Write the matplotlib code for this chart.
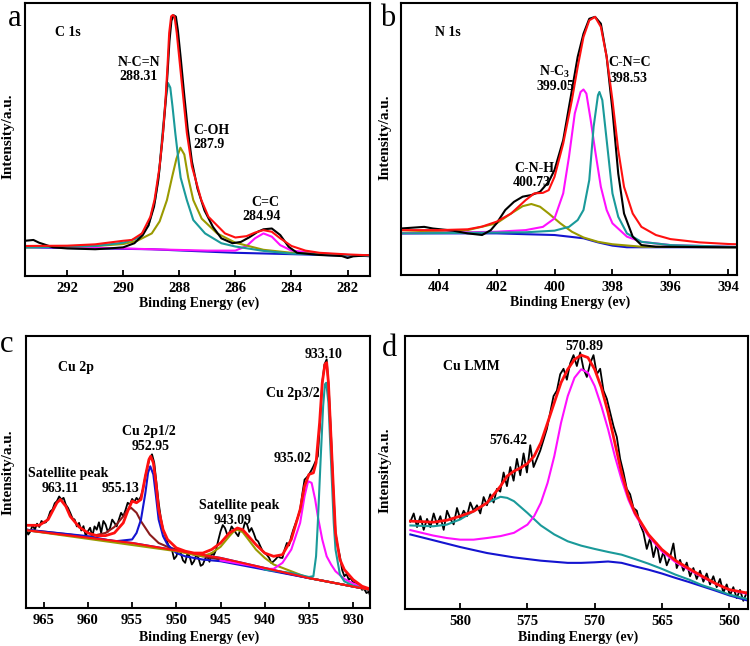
import numpy as np
import matplotlib
matplotlib.use("Agg")
import matplotlib.pyplot as plt

plt.rcParams["font.family"] = ["Liberation Serif", "DejaVu Serif"]
plt.rcParams["font.weight"] = "bold"
plt.rcParams["mathtext.fontset"] = "custom"
plt.rcParams["mathtext.rm"] = "Liberation Serif:bold"
plt.rcParams["mathtext.it"] = "Liberation Serif:bold"
plt.rcParams["mathtext.bf"] = "Liberation Serif:bold"

RED = "#ff1010"
TEAL = "#1a9a9a"
OLIVE = "#9a9a00"
MAGENTA = "#ff10ff"
BLUE = "#1414d0"
BROWN = "#8b1c1c"

# ---------------- (a) C 1s ----------------
a_fit_x = [293.5, 292, 291, 290, 289.69, 289.33, 289.03, 288.88, 288.70, 288.58, 288.49, 288.42,
           288.36, 288.29, 288.23, 288.17, 288.09, 287.97, 287.85, 287.73, 287.55, 287.22, 286.96,
           286.37, 286.0, 285.6, 285.3, 285.0, 284.7, 284.4, 284.0, 283.5, 283, 282, 281.25]
a_fit_y = [11.0, 11.1, 11.6, 12.9, 13.2, 15.6, 21.7, 28.0, 40.2, 52.4, 64.6, 76.8,
           89.0, 95.1, 95.6, 95.1, 89.0, 76.8, 64.6, 52.4, 40.2, 28.0, 21.7,
           15.6, 14.1, 14.6, 15.9, 16.8, 16.2, 13.8, 11.0, 9.3, 8.5, 7.9, 7.6]
a_raw_x = [293.5, 293.2, 293.0, 292.5, 292, 291, 290.5, 290, 289.6, 289.3, 289.1, 288.9, 288.75,
           288.6, 288.5, 288.42, 288.35, 288.28, 288.2, 288.12, 288.05, 287.95, 287.82, 287.7,
           287.55, 287.35, 287.1, 286.8, 286.5, 286.1, 285.8, 285.5, 285.2, 285.0, 284.7, 284.4,
           284.1, 283.8, 283, 282.2, 282, 281.8, 281.25]
a_raw_y = [12.9, 13.2, 12.2, 10.5, 10.1, 9.8, 10.1, 10.5, 12.0, 15.0, 18.5, 25.4, 35.0,
           50.0, 62.0, 74.0, 86.0, 93.5, 95.5, 95.0, 90.0, 80.0, 66.0, 54.0,
           42.0, 32.0, 24.0, 18.0, 13.8, 12.0, 12.5, 14.2, 16.2, 17.1, 17.4, 15.0,
           10.7, 8.5, 7.7, 7.3, 6.6, 7.2, 7.6]
a_ncn_x = [293.5, 291, 290, 289.5, 289.33, 289.1, 288.86, 288.72, 288.6, 288.5, 288.4, 288.32,
           288.24, 288.14, 288.0, 287.95, 287.73, 287.5, 287.08, 286.5, 286, 285, 284, 282, 281.25]
a_ncn_y = [10.5, 11.0, 12.2, 13.8, 15.6, 18.5, 28.0, 38.0, 52.2, 63.0, 70.7, 69.0,
           62.0, 52.2, 40.0, 36.0, 27.8, 20.5, 15.6, 12.0, 10.8, 9.2, 8.2, 7.6, 7.3]
a_coh_x = [293.5, 291, 290, 289.5, 288.98, 288.7, 288.44, 288.25, 288.1, 287.96, 287.82, 287.68,
           287.5, 287.2, 286.65, 286, 285, 284, 282, 281.25]
a_coh_y = [10.5, 11.0, 11.7, 12.9, 15.6, 20.0, 27.8, 36.5, 43.0, 47.0, 44.5, 36.0,
           27.8, 21.0, 15.6, 12.2, 9.6, 8.5, 7.7, 7.3]
a_cc_x = [293.5, 291, 289, 287, 286, 285.6, 285.3, 285.0, 284.7, 284.4, 284, 283, 282, 281.25]
a_cc_y = [10.7, 10.4, 9.8, 9.3, 9.3, 11.0, 13.8, 15.6, 14.4, 11.3, 9.3, 8.3, 7.7, 7.3]
a_bg_x = [293.5, 289, 286, 284, 281.25]
a_bg_y = [10.5, 9.8, 8.5, 8.0, 7.3]

# ---------------- (b) N 1s ----------------
b_fit_x = [405.3, 404, 403, 402.5, 402, 401.5, 401, 400.7, 400.4, 400.2, 400, 399.7, 399.4, 399.2,
           399.0, 398.8, 398.6, 398.4, 398.2, 398, 397.8, 397.6, 397.3, 397, 396.5, 396, 395, 394, 393.7]
b_fit_y = [16.5, 16.5, 16.8, 17.8, 19.6, 22.6, 27.5, 30.0, 30.2, 31.2, 36.1, 48.3, 64.3, 76.5,
           87.5, 93.6, 94.9, 91.2, 80.2, 64.3, 45.9, 32.4, 22.6, 17.7, 14.7, 13.2, 12.0, 11.4, 11.3]
b_raw_x = [405.3, 404.5, 404.2, 403.5, 403, 402.5, 402.2, 402, 401.7, 401.4, 401.1, 400.8, 400.5,
           400.2, 400, 399.7, 399.4, 399.2, 399.0, 398.8, 398.6, 398.4, 398.2, 398, 397.8, 397.6,
           397.3, 397, 396.5, 394, 393.7]
b_raw_y = [17.1, 17.7, 17.1, 16.3, 15.3, 14.7, 16.5, 19.0, 23.9, 26.9, 28.8, 29.4, 30.6,
           34.3, 38.6, 49.6, 67.9, 80.2, 88.7, 94.2, 94.9, 92.4, 80.2, 60.6, 37.3, 22.6,
           14.1, 11.0, 10.4, 10.2, 10.2]
b_nc3_x = [405.3, 402, 401, 400.4, 400, 399.7, 399.5, 399.3, 399.1, 399.0, 398.9, 398.75, 398.6,
           398.4, 398.2, 398, 397.5, 397, 396, 394, 393.7]
b_nc3_y = [15.3, 15.9, 16.5, 17.7, 20.8, 30.0, 43.5, 59.4, 67.3, 68.2, 66.7, 56.9, 45.9,
           32.4, 23.9, 19.0, 14.1, 12.2, 11.0, 10.4, 10.3]
b_cnc_x = [405.3, 401, 400, 399.5, 399.2, 399, 398.8, 398.65, 398.5, 398.45, 398.35, 398.2, 398,
           397.8, 397.5, 397, 396, 394, 393.7]
b_cnc_y = [15.3, 15.7, 16.3, 17.7, 20.2, 23.9, 34.9, 54.5, 66.1, 67.3, 64.3, 49.6, 30.0,
           21.4, 15.3, 12.2, 11.0, 10.4, 10.3]
b_cnh_x = [405.3, 403, 402, 401.5, 401.1, 400.8, 400.5, 400.2, 399.8, 399.4, 399, 398.5, 398, 397, 394, 393.7]
b_cnh_y = [15.5, 16.5, 19.0, 22.6, 25.3, 26.1, 25.1, 22.6, 19.0, 15.9, 13.8, 12.2, 11.3, 10.4, 10.2, 10.2]
b_bg_x = [405.3, 402, 400, 399, 398.5, 398, 397.5, 394, 393.7]
b_bg_y = [15.3, 15.3, 14.7, 13.5, 12.0, 10.8, 10.2, 10.2, 10.2]

# ---------------- (c) Cu 2p ----------------
c_fit_x = [967, 965.5, 964.5, 964, 963.5, 963.1, 962.5, 962, 961, 960, 959, 958, 957, 956, 955.5,
           955, 954.5, 954, 953.5, 953.1, 952.9, 952.6, 952.3, 952, 951.5, 951, 950, 949, 948, 947,
           946, 945, 944, 943.1, 942.5, 942, 941, 940, 939, 938, 937, 936, 935.5, 935, 934.5,
           934.2, 933.8, 933.5, 933.2, 933.0, 932.8, 932.5, 932.2, 932, 931.5, 931, 930, 929, 928.1]
c_fit_y = [30.4, 30.4, 32.5, 35.6, 38.7, 39.9, 37.4, 33.7, 29.8, 27.6, 26.6, 26.6, 27.6, 31.3, 35.6,
           39.3, 38.7, 39.9, 48.5, 54.6, 55.8, 53.4, 46.0, 36.2, 28.8, 25.2, 22.1, 20.9, 20.2, 20.2,
           21.5, 23.9, 27.6, 29.4, 28.8, 27.0, 23.3, 20.2, 19.0, 19.6, 25.2, 36.2, 44.8, 49.1, 49.7,
           53.4, 68.1, 82.8, 89.6, 90.2, 82.8, 62.0, 41.1, 27.6, 17.8, 14.1, 10.4, 8.0, 7.0]
# measured spectrum, 967 -> 928 eV every 0.25 eV
c_raw_y = [29.4, 27.0, 28.2, 30.5, 28.8, 31.0, 29.8, 32.0, 31.3, 31.5, 33.1, 35.5, 36.2, 38.5,
           39.3, 41.0, 39.9, 40.5, 38.0, 36.8, 35.0, 33.0, 32.5, 30.0, 31.3, 28.5, 30.1, 26.5,
           28.2, 29.5, 26.4, 30.0, 28.8, 31.5, 27.6, 32.0, 30.7, 28.0, 29.4, 32.5, 31.3, 30.0,
           32.5, 35.0, 33.7, 36.0, 38.7, 38.0, 40.1, 39.0, 40.5, 39.5, 41.1, 44.0, 48.5, 52.0,
           55.2, 56.5, 53.4, 46.0, 38.7, 33.0, 28.8, 26.5, 23.9, 22.0, 21.5, 18.0, 19.0, 21.5,
           20.2, 17.5, 16.6, 20.0, 19.0, 16.0, 17.2, 19.5, 18.4, 15.5, 16.0, 18.0, 19.0, 17.0,
           20.2, 19.5, 21.5, 25.0, 28.2, 30.5, 29.4, 27.0, 27.6, 30.0, 28.8, 27.5, 26.4, 29.0,
           28.2, 31.5, 30.7, 28.0, 29.4, 27.5, 25.2, 24.5, 22.7, 21.0, 20.2, 19.5, 18.4, 16.5,
           17.2, 18.0, 19.0, 18.5, 18.4, 21.5, 23.9, 23.0, 26.4, 29.0, 31.3, 33.5, 36.2, 42.0,
           47.2, 48.0, 49.1, 50.5, 52.1, 54.0, 55.8, 68.0, 82.8, 89.5, 91.4, 80.0, 63.2, 44.0,
           27.6, 22.5, 19.0, 14.0, 11.7, 12.5, 10.4, 11.0, 9.2, 9.8, 8.0, 8.5, 6.7, 7.0, 5.5,
           6.0, 3.7]
c_bg_x = [967, 955, 945, 935, 928.1]
c_bg_y = [28.6, 23.9, 18.4, 11.0, 6.7]
c_p12_x = [967, 960, 957, 955, 954.5, 954, 953.5, 953.2, 952.95, 952.6, 952.3, 952, 951.5, 951,
           950, 949, 947, 945, 935, 928.1]
c_p12_y = [28.8, 26.4, 24.5, 25.2, 27.6, 32.5, 42.3, 49.7, 52.1, 49.1, 41.1, 32.5, 26.4, 23.3,
           20.2, 19.0, 17.8, 17.2, 11.0, 6.7]
c_s955_x = [967, 962, 960, 958, 957, 956, 955.5, 955.1, 954.5, 954, 953, 952, 951, 950, 948, 945, 935, 928.1]
c_s955_y = [28.8, 27.0, 26.1, 27.6, 29.8, 33.7, 36.2, 36.8, 35.0, 31.9, 27.0, 23.9, 22.5, 21.5,
            19.6, 17.8, 11.0, 6.7]
c_sat_x = [967, 950, 948, 947, 946, 945, 944, 943.5, 943.1, 942.5, 942, 941, 940, 939, 937, 935, 928.1]
c_sat_y = [28.6, 20.9, 19.6, 19.0, 20.2, 22.5, 26.4, 28.2, 28.8, 27.9, 25.8, 21.5, 18.4, 16.0, 13.5, 11.0, 6.7]
c_s935_x = [945, 941, 940, 939, 938, 937, 936, 935.5, 935.1, 934.7, 934.3, 934, 933.5, 933, 932.5,
            932, 931, 930, 929, 928.1]
c_s935_y = [17.5, 15.3, 14.4, 14.4, 16.6, 21.5, 31.3, 41.1, 46.6, 46.0, 39.9, 33.7, 25.2, 19.0, 16.0,
            13.5, 10.7, 9.0, 7.6, 7.0]
c_p32_x = [940, 937, 935, 934.5, 934.2, 934, 933.7, 933.4, 933.2, 933.05, 932.8, 932.5, 932.2, 932,
           931.5, 931, 930, 929, 928.1]
c_p32_y = [14.1, 12.9, 11.4, 11.7, 19.0, 31.3, 53.4, 74.2, 82.2, 82.8, 75.5, 53.4, 31.3, 21.5,
           12.3, 9.8, 8.2, 7.4, 6.5]

# ---------------- (d) Cu LMM ----------------
d_fit_x = [583.7, 582, 581, 580, 579, 578, 577, 576.5, 576, 575.5, 575, 574.5, 574, 573.5, 573,
           572.5, 572, 571.5, 571, 570.5, 570, 569.5, 569, 568.5, 568, 567.5, 567, 566, 565, 564,
           563, 562, 561, 560, 558.7]
d_fit_y = [32.2, 31.8, 32.5, 34.0, 35.8, 38.9, 45.0, 48.7, 50.5, 51.7, 53.3, 56.0, 60.9, 68.2, 75.6,
           82.9, 87.8, 91.4, 93.0, 92.1, 87.8, 81.1, 71.9, 60.9, 49.9, 41.3, 35.2, 27.3, 21.8, 17.8,
           14.8, 12.0, 9.3, 7.1, 5.9]
# measured spectrum, 583.7 -> 558.7 eV every 0.25 eV
d_raw_y = [32, 35, 30, 34, 29, 33, 30, 35, 31, 34, 29, 36, 33, 31, 37, 33, 36, 34, 39, 36, 38, 35,
           41, 38, 42, 39, 44, 43, 50, 45, 52, 47, 55, 49, 57, 50, 60, 52, 55, 58, 62, 66, 72, 78,
           80, 86, 88, 84, 90, 93, 89, 94, 88, 85, 90, 93, 86, 88, 80, 77, 72, 67, 63, 55, 50, 44,
           42, 37, 36, 31, 28, 22, 26, 19, 24, 17, 21, 16, 19, 24, 15, 18, 14, 17, 12, 15, 11, 14,
           10, 13, 9, 12, 8, 11, 6, 9, 5, 8, 4, 7, 3, 6]
d_main_x = [583.7, 582, 581, 580, 579, 578, 577, 576, 575, 574.5, 574, 573.5, 573, 572.5, 572, 571.5,
            571, 570.5, 570, 569.5, 569, 568.5, 568, 567.5, 567, 566, 565, 564, 563, 562, 561, 560, 558.7]
d_main_y = [28.9, 26.9, 26.0, 25.4, 25.4, 26.0, 26.7, 27.9, 30.9, 34.0, 38.9, 46.2, 56.0, 68.2, 78.0,
            84.7, 87.8, 86.6, 81.7, 74.3, 65.8, 56.0, 47.4, 40.1, 34.6, 26.7, 21.1, 17.2, 14.4, 11.7,
            9.2, 7.1, 5.6]
d_side_x = [583.7, 582, 581, 580, 579, 578, 577, 576.5, 576, 575, 574, 573, 572, 571, 570, 569, 568,
            567, 566, 565, 564, 563, 562, 561, 560, 558.7]
d_side_y = [30.6, 30.3, 30.9, 32.8, 35.8, 38.9, 41.1, 40.7, 39.5, 35.2, 30.6, 27.3, 24.8, 23.2, 22.0,
            20.9, 19.9, 18.3, 16.6, 14.7, 12.6, 10.8, 8.7, 7.1, 5.3, 3.7]
d_bg_x = [583.7, 582, 580, 578, 576, 574, 572, 571, 570, 569, 568, 567, 566, 565, 564, 563, 562,
          561, 560, 558.7]
d_bg_y = [27.3, 25.2, 22.7, 20.5, 18.9, 17.7, 16.9, 16.9, 17.1, 17.4, 16.9, 15.6, 14.4, 13.0, 11.4,
          9.9, 8.3, 6.7, 5.0, 3.2]

W, H = 750, 646
fig = plt.figure(figsize=(7.5, 6.46), dpi=100)


def box(l, t, r, b):
    return [l / W, 1 - b / H, (r - l) / W, (b - t) / H]


def label(x, y, s, size=10, ha="center", **kw):
    fig.text(x / W, 1 - y / H, s, fontsize=size, ha=ha, va="center", fontweight="bold", **kw)


def setup(ax, xlim, ticks):
    ax.set_xlim(*xlim)
    ax.set_ylim(0, 100)
    ax.set_xticks(ticks)
    ax.set_yticks([])
    ax.tick_params(axis="x", direction="in", length=4, width=1.3, labelsize=10.5, pad=4)
    for lab in ax.get_xticklabels():
        lab.set_fontweight("bold")
    for sp in ax.spines.values():
        sp.set_linewidth(1.5)


lw = 1.5

ax = fig.add_axes(box(25, 3, 370, 276))
setup(ax, (293.5, 281.2), [292, 290, 288, 286, 284, 282])
ax.plot(a_bg_x, a_bg_y, color=BLUE, lw=lw)
ax.plot(a_cc_x, a_cc_y, color=MAGENTA, lw=lw)
ax.plot(a_coh_x, a_coh_y, color=OLIVE, lw=lw)
ax.plot(a_ncn_x, a_ncn_y, color=TEAL, lw=lw)
ax.plot(a_raw_x, a_raw_y, color="black", lw=lw)
ax.plot(a_fit_x, a_fit_y, color=RED, lw=lw)

ax = fig.add_axes(box(401, 3, 737, 275))
setup(ax, (405.3, 393.7), [404, 402, 400, 398, 396, 394])
ax.plot(b_bg_x, b_bg_y, color=BLUE, lw=lw)
ax.plot(b_cnh_x, b_cnh_y, color=OLIVE, lw=lw)
ax.plot(b_nc3_x, b_nc3_y, color=MAGENTA, lw=lw)
ax.plot(b_cnc_x, b_cnc_y, color=TEAL, lw=lw)
ax.plot(b_raw_x, b_raw_y, color="black", lw=lw)
ax.plot(b_fit_x, b_fit_y, color=RED, lw=lw)

ax = fig.add_axes(box(26, 336, 370, 608))
setup(ax, (967, 928.1), [965, 960, 955, 950, 945, 940, 935, 930])
ax.plot(np.linspace(967, 928.0, len(c_raw_y)), c_raw_y, color="black", lw=1.3)
ax.plot(c_bg_x, c_bg_y, color=BLUE, lw=lw)
ax.plot(c_s955_x, c_s955_y, color=BROWN, lw=lw)
ax.plot(c_p12_x, c_p12_y, color=BLUE, lw=lw)
ax.plot(c_sat_x, c_sat_y, color=OLIVE, lw=lw)
ax.plot(c_s935_x, c_s935_y, color=MAGENTA, lw=lw)
ax.plot(c_p32_x, c_p32_y, color=TEAL, lw=lw)
ax.plot(c_bg_x, c_bg_y, color=RED, lw=lw)
ax.plot(c_fit_x, c_fit_y, color=RED, lw=2)

ax = fig.add_axes(box(405, 336, 748, 609))
setup(ax, (584.1, 558.6), [580, 575, 570, 565, 560])
ax.plot(np.linspace(583.7, 558.7, len(d_raw_y)), d_raw_y, color="black", lw=1.3)
ax.plot(d_bg_x, d_bg_y, color=BLUE, lw=lw)
ax.plot(d_side_x, d_side_y, color=TEAL, lw=lw)
ax.plot(d_main_x, d_main_y, color=MAGENTA, lw=lw)
ax.plot(d_fit_x, d_fit_y, color=RED, lw=2)

# axis titles
for cx, cy in [(199, 303), (570, 302), (199, 637), (578, 637)]:
    label(cx, cy, "Binding Energy (ev)", size=10)
for cx, cy in [(8, 136), (385, 137), (8, 472), (385, 470)]:
    label(cx, cy, "Intensity/a.u.", size=11, rotation=90)

# panel letters
for cx, cy, s in [(8, 18, "a"), (380, 18, "b"), (0, 345, "c"), (382, 348, "d")]:
    fig.text(cx / W, 1 - cy / H, s, fontsize=22, ha="left", va="center", fontweight="normal")

# annotations
label(55, 33, "C 1s", ha="left")
label(139, 62, "N-C=N")
label(138, 76, "288.31")
label(193, 131, "C-OH", ha="left")
label(193, 145, "287.9", ha="left")
label(265, 202, "C=C")
label(262, 217, "284.94")

label(435, 33, "N 1s", ha="left")
label(555, 72, "N-C$_3$")
label(555, 86, "399.05")
label(608, 63, "C-N=C", ha="left")
label(610, 79, "398.53", ha="left")
label(534, 169, "C-N-H")
label(532, 183, "400.73")

label(58, 368, "Cu 2p", ha="left")
label(68, 473, "Satellite peak")
label(60, 489, "963.11")
label(121, 489, "955.13")
label(149, 431, "Cu 2p1/2")
label(151, 446, "952.95")
label(239, 505, "Satellite peak")
label(233, 520, "943.09")
label(293, 458, "935.02")
label(293, 393, "Cu 2p3/2")
label(324, 354, "933.10")

label(443, 366, "Cu LMM", ha="left")
label(584, 346, "570.89")
label(508, 441, "576.42")

fig.savefig("out.png", dpi=100)
